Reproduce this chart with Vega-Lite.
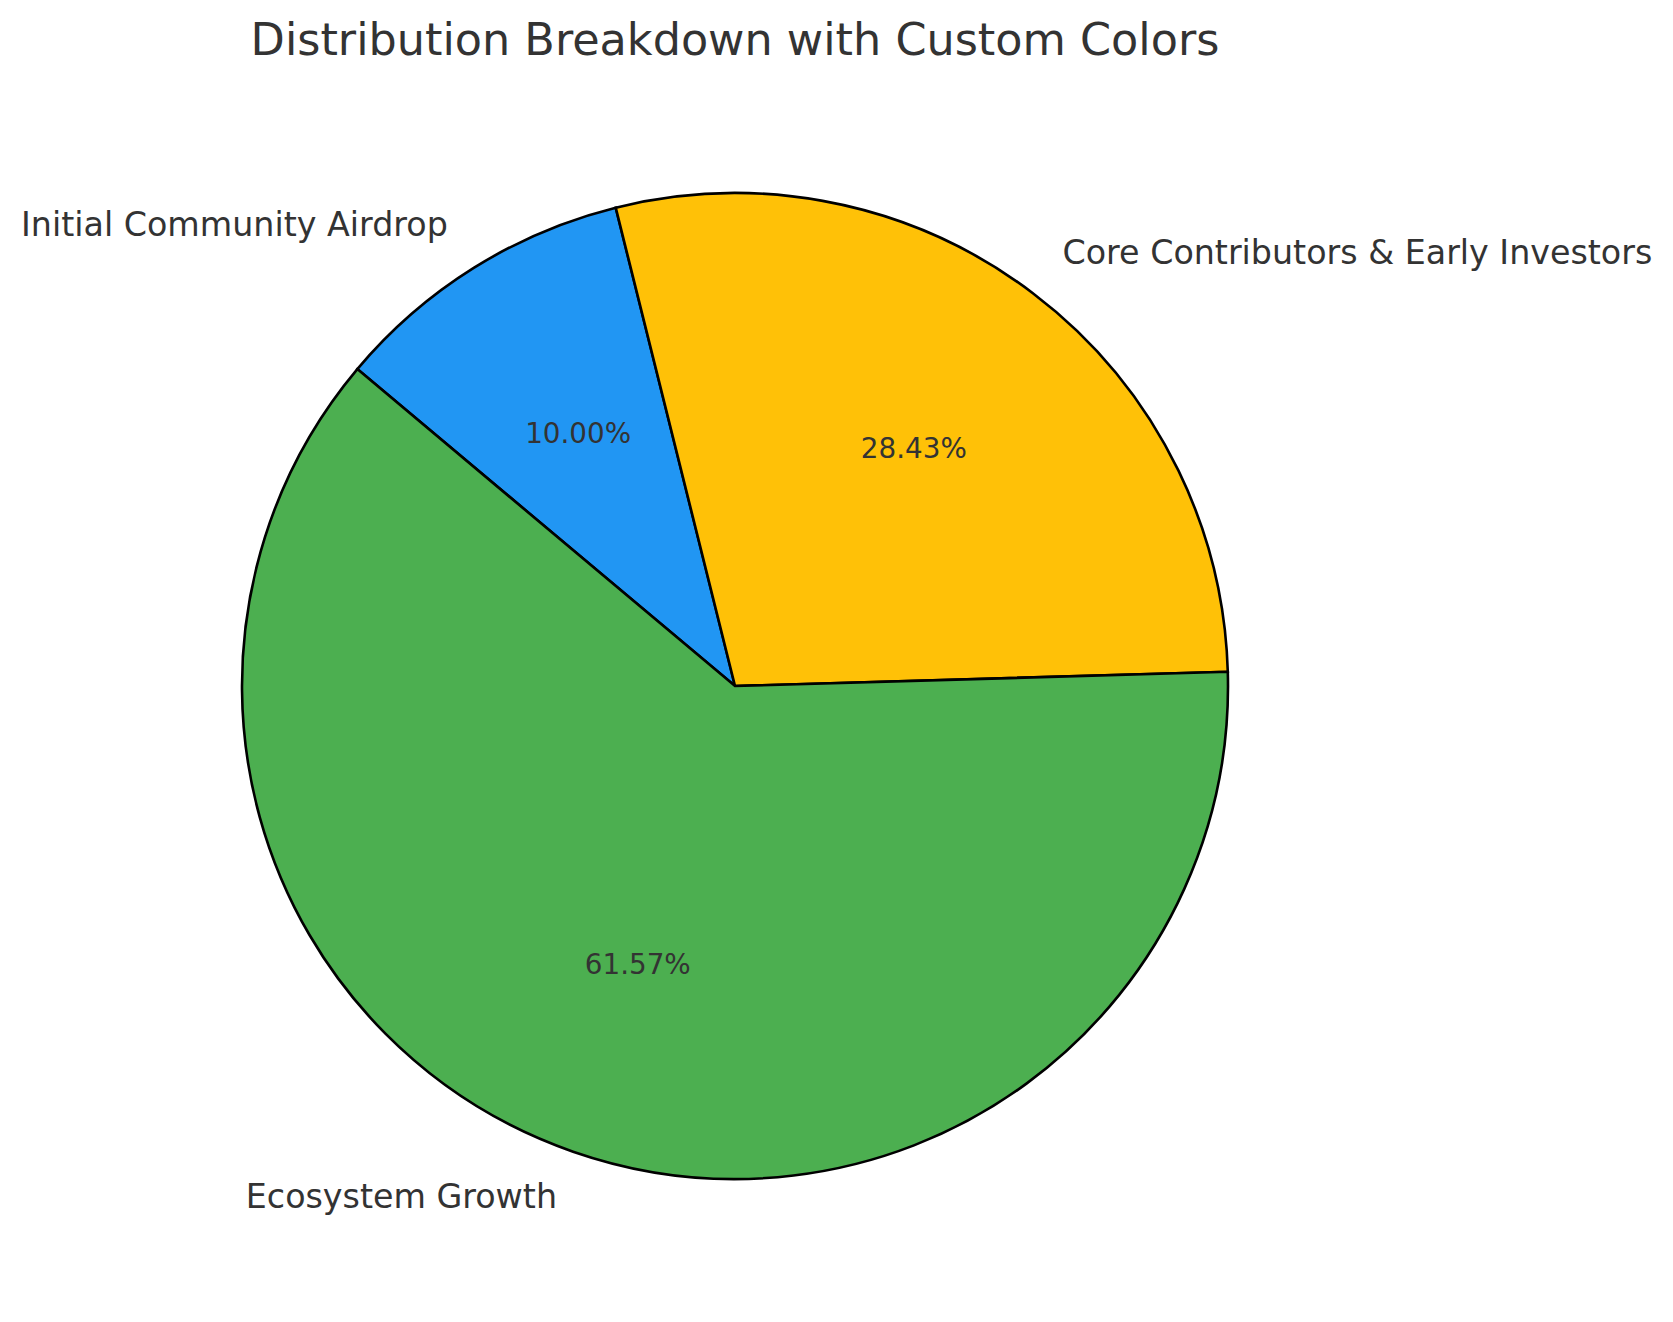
{
  "$schema": "https://vega.github.io/schema/vega-lite/v6.json",
  "width": 1470,
  "height": 1172,
  "autosize": {"type": "none"},
  "padding": {"left": 0, "top": 100, "right": 203, "bottom": 50},
  "background": "white",
  "title": {
    "text": "Distribution Breakdown with Custom Colors",
    "font": "DejaVu Sans",
    "fontSize": 44.5,
    "fontWeight": "normal",
    "color": "#333333",
    "anchor": "middle",
    "offset": 36
  },
  "config": {"view": {"stroke": null}},
  "data": {
    "values": [
      {"category": "Initial Community Airdrop", "share": 0.1, "order": 1},
      {"category": "Core Contributors & Early Investors", "share": 0.2843, "order": 2},
      {"category": "Ecosystem Growth", "share": 0.6157, "order": 3}
    ]
  },
  "encoding": {
    "theta": {
      "field": "share",
      "type": "quantitative",
      "stack": true,
      "scale": {"range": [-0.8727, 5.4105]}
    },
    "order": {"field": "order", "type": "quantitative", "sort": "ascending"}
  },
  "layer": [
    {
      "mark": {"type": "arc", "radius": 493, "stroke": "black", "strokeWidth": 2.6},
      "encoding": {
        "color": {
          "field": "category",
          "type": "nominal",
          "scale": {
            "domain": ["Initial Community Airdrop", "Core Contributors & Early Investors", "Ecosystem Growth"],
            "range": ["#2196F3", "#FFC107", "#4CAF50"]
          },
          "legend": null
        }
      }
    },
    {
      "mark": {
        "type": "text",
        "radius": 296,
        "font": "DejaVu Sans",
        "fontSize": 27.8,
        "color": "#333333",
        "align": "center",
        "baseline": "middle"
      },
      "encoding": {
        "text": {"field": "share", "type": "quantitative", "format": ".2%"}
      }
    },
    {
      "mark": {
        "type": "text",
        "radius": 542,
        "font": "DejaVu Sans",
        "fontSize": 33.3,
        "color": "#333333",
        "align": {"expr": "datum.category == 'Core Contributors & Early Investors' ? 'left' : 'right'"},
        "baseline": "middle"
      },
      "encoding": {
        "text": {"field": "category", "type": "nominal"}
      }
    }
  ]
}
